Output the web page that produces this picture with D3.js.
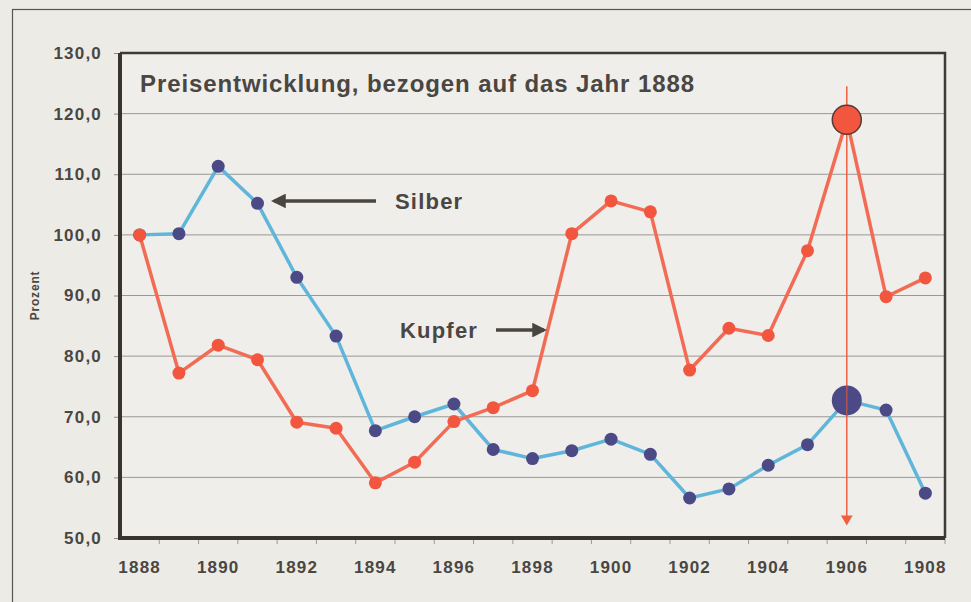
<!DOCTYPE html>
<html>
<head>
<meta charset="utf-8">
<script src="https://cdn.jsdelivr.net/npm/d3@7"></script>
<style>
	html, body { margin: 0; padding: 0; background: #ecebe6; }
	svg { display: block; font-family: "Liberation Sans", Arial, sans-serif; }
</style>
</head>
<body>
<svg id="chart" width="971" height="602"></svg>
<script>
const years = d3.range(1888, 1909);
const silber = [100.0, 100.2, 111.3, 105.2, 93.0, 83.3, 67.7, 70.0, 72.1, 64.6, 63.1, 64.4, 66.3, 63.8, 56.6, 58.1, 62.0, 65.4, 72.7, 71.1, 57.4];
const kupfer = [100.0, 77.2, 81.8, 79.4, 69.1, 68.1, 59.1, 62.5, 69.2, 71.5, 74.3, 100.2, 105.6, 103.8, 77.7, 84.6, 83.4, 97.4, 119.0, 89.8, 92.9];
const yTicks = [50, 60, 70, 80, 90, 100, 110, 120, 130];
const yearLabels = [1888, 1890, 1892, 1894, 1896, 1898, 1900, 1902, 1904, 1906, 1908];
const highlightYear = 1906;

const svg = d3.select('#chart'),
	margin = { top: 53, right: 26, bottom: 64, left: 120 },
	width = +svg.attr('width') - margin.left - margin.right,
	height = +svg.attr('height') - margin.top - margin.bottom,
	textColor = '#4a4642';

// outer frame of the clipping
svg.append('rect')
	.attr('x', 12.5).attr('y', 9.5)
	.attr('width', 1000).attr('height', 1000)
	.attr('fill', 'none').attr('stroke', '#555').attr('stroke-width', 1.2);

const g = svg.append('g').attr('transform', 'translate(' + margin.left + ',' + margin.top + ')');

let x = d3.scaleBand().domain(years).range([0, width]);
let y = d3.scaleLinear().domain([50, 130]).range([height, 0]);
const cx = yr => x(yr) + x.bandwidth() / 2;

g.append('rect')
	.attr('width', width).attr('height', height)
	.attr('fill', '#efeeea');

// gridlines
g.append('g').selectAll('line')
	.data(yTicks.filter(t => t > 50 && t < 130))
	.join('line')
	.attr('x1', 0).attr('x2', width)
	.attr('y1', d => y(d)).attr('y2', d => y(d))
	.attr('stroke', '#9a9894').attr('stroke-width', 1);

// y axis
let yAxis = g.append('g')
	.call(d3.axisLeft(y).tickValues(yTicks).tickSize(6).tickPadding(12)
		.tickFormat(d => d3.format('.1f')(d).replace('.', ',')));
yAxis.select('.domain').remove();
yAxis.selectAll('line').attr('stroke', '#888');
yAxis.selectAll('text')
	.attr('fill', textColor).attr('font-size', 17).attr('font-weight', 'bold')
	.attr('letter-spacing', 1.2);

// x axis
let xAxis = g.append('g')
	.attr('transform', 'translate(0,' + height + ')')
	.call(d3.axisBottom(x).tickValues(yearLabels).tickSize(0).tickPadding(23));
xAxis.select('.domain').remove();
xAxis.selectAll('text')
	.attr('fill', textColor).attr('font-size', 17).attr('font-weight', 'bold')
	.attr('letter-spacing', 1.2);

// small ticks between categories
g.append('g').selectAll('line')
	.data(years.slice(1).concat(['end']))
	.join('line')
	.attr('x1', d => d === 'end' ? width : x(d))
	.attr('x2', d => d === 'end' ? width : x(d))
	.attr('y1', height).attr('y2', height + 6)
	.attr('stroke', '#999').attr('stroke-width', 1);

// plot frame
g.append('path')
	.attr('d', 'M0,0H' + width + 'V' + height)
	.attr('fill', 'none').attr('stroke', '#3e3a38').attr('stroke-width', 2.5);
g.append('path')
	.attr('d', 'M0,0V' + height + 'H' + width)
	.attr('fill', 'none').attr('stroke', '#38332f').attr('stroke-width', 4);

svg.append('text')
	.attr('transform', 'translate(39,' + (margin.top + y(90)) + ') rotate(-90)')
	.attr('text-anchor', 'middle')
	.attr('font-size', 12).attr('font-weight', 'bold').attr('fill', textColor)
	.attr('letter-spacing', 0.8)
	.text('Prozent');

g.append('text')
	.attr('x', 20).attr('y', 39)
	.attr('font-size', 24).attr('font-weight', 'bold').attr('fill', textColor)
	.attr('textLength', 554).attr('lengthAdjust', 'spacing')
	.text('Preisentwicklung, bezogen auf das Jahr 1888');

let line = d3.line()
	.x((d, i) => cx(years[i]))
	.y(d => y(d));

const series = [
	{ data: silber, line: '#5fb6da', dot: '#4c4a86' },
	{ data: kupfer, line: '#f26b55', dot: '#f2563f' }
];

series.forEach(s => {
	g.append('path').datum(s.data)
		.attr('d', line)
		.attr('fill', 'none').attr('stroke', s.line).attr('stroke-width', 3.5)
		.attr('stroke-linejoin', 'round');
});
series.forEach(s => {
	g.append('g').selectAll('circle')
		.data(s.data)
		.join('circle')
		.attr('cx', (d, i) => cx(years[i]))
		.attr('cy', d => y(d))
		.attr('r', (d, i) => years[i] === highlightYear ? 0 : 6.5)
		.attr('fill', s.dot);
});

// highlight marker line at 1906
const hx = cx(highlightYear),
	hi = years.indexOf(highlightYear);
g.append('line')
	.attr('x1', hx).attr('x2', hx)
	.attr('y1', y(124.5)).attr('y2', y(53.5))
	.attr('stroke', '#f0603f').attr('stroke-width', 1.5);
g.append('path')
	.attr('d', d3.symbol().type(d3.symbolTriangle).size(60)())
	.attr('transform', 'translate(' + hx + ',' + (y(53.5) + 2) + ') rotate(180)')
	.attr('fill', '#f0603f');

g.append('circle')
	.attr('cx', hx).attr('cy', y(kupfer[hi])).attr('r', 14.5)
	.attr('fill', '#f2563f').attr('stroke', '#5a3a34').attr('stroke-width', 1.5);
g.append('circle')
	.attr('cx', hx).attr('cy', y(silber[hi])).attr('r', 15)
	.attr('fill', '#4c4a86');
g.append('line')
	.attr('x1', hx).attr('x2', hx)
	.attr('y1', y(silber[hi]) - 15).attr('y2', y(silber[hi]) + 15)
	.attr('stroke', '#c8584a').attr('stroke-width', 1.2);

// annotations
svg.append('defs').append('marker')
	.attr('id', 'head').attr('viewBox', '0 0 10 10')
	.attr('refX', 8).attr('refY', 5)
	.attr('markerWidth', 4.2).attr('markerHeight', 4.2)
	.attr('markerUnits', 'strokeWidth')
	.attr('orient', 'auto')
	.append('path').attr('d', 'M0,0L10,5L0,10z').attr('fill', '#4a4540');

const arrow = (x1, y1, x2, y2) => g.append('line')
	.attr('x1', x1).attr('y1', y1).attr('x2', x2).attr('y2', y2)
	.attr('stroke', '#4a4540').attr('stroke-width', 3.5)
	.attr('marker-end', 'url(#head)');

arrow(256, y(105.6), 154, y(105.6));
g.append('text')
	.attr('x', 275).attr('y', y(104.2))
	.attr('font-size', 22).attr('font-weight', 'bold').attr('fill', textColor)
	.attr('letter-spacing', 1.2)
	.text('Silber');

arrow(376, y(84.3), 424, y(84.3));
g.append('text')
	.attr('x', 280).attr('y', y(83.0))
	.attr('font-size', 22).attr('font-weight', 'bold').attr('fill', textColor)
	.attr('letter-spacing', 1.2)
	.text('Kupfer');
</script>
</body>
</html>
